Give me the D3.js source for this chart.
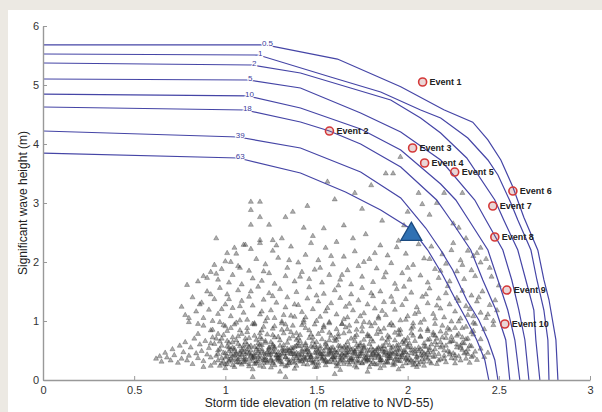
<!DOCTYPE html>
<html><head><meta charset="utf-8">
<script src="https://cdn.jsdelivr.net/npm/d3@7"></script>
<style>body{margin:0;background:#ece9e3}svg{display:block}</style>
</head><body>
<svg id="c" width="602" height="412"></svg>
<script>
// ---------- data ----------
const xTicks = [0, 0.5, 1, 1.5, 2, 2.5, 3];
const xTickLabels = ["0", "0.5", "1", "1.5", "2", "2.5", "3"];
const yTicks = [0, 1, 2, 3, 4, 5, 6];
const yTickLabels = ["0", "1", "2", "3", "4", "5", "6"];

const contourLabels = ["0.5", "1", "2", "5", "10", "18", "39", "63"];
const contour_0_5 = [[0,5.68],[1.22,5.68],[1.615,5.44],[1.962,4.97],[2.198,4.58],[2.357,4.37],[2.44,4.07],[2.511,3.73],[2.577,3.27],[2.637,2.76],[2.714,2.2],[2.747,1.7],[2.775,1.36],[2.813,0.68],[2.824,0]];
const contour_1 = [[0,5.525],[1.181,5.508],[1.577,5.136],[1.852,4.881],[2.071,4.576],[2.181,4.441],[2.33,4.102],[2.44,3.729],[2.495,3.475],[2.566,3.0],[2.604,2.712],[2.676,2.203],[2.709,1.695],[2.747,1.186],[2.769,0.678],[2.775,0]];
const contour_2 = [[0,5.373],[1.148,5.339],[1.412,5.203],[1.687,4.949],[1.907,4.746],[2.071,4.441],[2.181,4.186],[2.324,3.763],[2.478,3.051],[2.527,2.712],[2.604,2.203],[2.648,1.695],[2.692,1.186],[2.703,0.678],[2.725,0]];
const contour_5 = [[0,5.102],[1.126,5.085],[1.412,4.949],[1.742,4.525],[1.962,4.203],[2.181,3.729],[2.368,3.051],[2.429,2.712],[2.522,2.203],[2.571,1.695],[2.61,1.186],[2.643,0.678],[2.665,0]];
const contour_10 = [[0,4.847],[1.121,4.814],[1.412,4.61],[1.742,4.254],[1.962,3.898],[2.181,3.322],[2.264,3.051],[2.335,2.712],[2.44,2.203],[2.495,1.695],[2.549,1.186],[2.588,0.678],[2.615,0]];
const contour_18 = [[0,4.627],[1.11,4.576],[1.412,4.373],[1.571,4.22],[1.742,4.0],[1.962,3.61],[2.159,3.051],[2.236,2.712],[2.346,2.203],[2.412,1.695],[2.484,1.186],[2.538,0.678],[2.56,0]];
const contour_39 = [[0,4.22],[1.071,4.119],[1.412,3.932],[1.742,3.525],[1.962,3.085],[2.099,2.576],[2.181,2.203],[2.247,1.864],[2.324,1.356],[2.39,1.017],[2.44,0.678],[2.478,0.339],[2.495,0]];
const contour_63 = [[0,3.847],[1.071,3.763],[1.412,3.508],[1.659,3.186],[1.852,2.881],[2.027,2.542],[2.11,2.203],[2.192,1.78],[2.264,1.356],[2.324,1.017],[2.379,0.678],[2.423,0.339],[2.445,0]];

const eventNames = ["Event 1","Event 2","Event 3","Event 4","Event 5","Event 6","Event 7","Event 8","Event 9","Event 10"];
const eventX = [2.082, 1.571, 2.027, 2.093, 2.258, 2.577, 2.467, 2.478, 2.544, 2.533];
const eventY = [5.051, 4.22, 3.932, 3.678, 3.525, 3.203, 2.949, 2.424, 1.525, 0.949];

const designPoint = [2.02, 2.47];

// simulated storm events (x, y in hundredths of a metre), read off the cloud
const stormCloudHundredths = [
95,41,96,33,97,52,98,28,99,46,100,38,101,57,102,31,103,44,104,25,105,49,106,36,107,61,108,29,109,42,110,53,111,34,112,47,113,27,114,58,115,39,116,45,117,31,118,55,119,24,120,48,121,37,122,63,123,32,124,51,125,43,126,28,127,56,128,35,129,47,130,41,131,26,132,59,133,38,134,49,135,33,136,44,137,54,138,29,139,40,140,62,141,36,142,48,143,27,144,52,145,42,146,34,147,57,148,31,149,46,150,39,151,24,152,53,153,37,154,44,155,60,156,30,157,48,158,35,159,55,160,41,161,28,162,50,163,38,164,45,165,33,166,58,167,42,168,26,169,51,170,36,171,47,172,32,173,56,174,40,175,29,176,53,177,43,178,35,179,61,180,38,181,46,182,27,183,52,184,41,185,33,186,49,187,57,188,30,189,44,190,37,191,54,192,25,193,47,194,39,195,59,196,32,197,45,198,50,199,28,200,42,201,36,202,55,203,31,204,48,205,40,206,26,207,52,208,35,209,45,210,38,
96,44,98,37,100,26,102,55,104,40,106,30,108,48,110,35,112,60,114,43,116,27,118,39,120,52,122,34,124,46,126,57,128,41,130,31,132,49,134,25,136,54,138,43,140,33,142,58,144,37,146,47,148,28,150,51,152,40,154,32,156,56,158,45,160,34,162,26,164,53,166,39,168,47,170,30,172,59,174,44,176,36,178,50,180,27,182,42,184,55,186,33,188,46,190,40,192,29,194,51,196,38,198,61,200,34,202,45,204,27,206,49,208,41,210,56,
105,42,107,35,109,50,111,30,113,45,115,37,117,52,119,41,121,29,123,47,125,36,127,53,129,33,131,44,133,39,135,50,137,31,139,46,141,42,143,35,145,53,147,38,149,30,151,48,153,43,155,34,157,51,159,39,161,46,163,31,165,41,167,54,169,36,171,44,173,29,175,49,177,38,179,33,181,51,183,45,185,37,187,42,189,31,191,48,193,35,195,44,
97,24,99,31,101,27,103,36,105,22,107,30,109,26,111,38,113,23,115,32,117,28,119,35,121,22,123,29,125,33,127,25,129,37,131,30,133,23,135,28,137,36,139,24,141,31,143,39,145,26,147,33,149,22,151,29,153,35,155,25,157,31,159,38,161,23,163,34,165,27,167,30,169,37,171,24,173,33,175,28,177,36,179,22,181,30,183,26,185,34,187,24,189,29,191,37,193,27,195,32,197,23,199,35,201,29,203,25,205,33,207,30,209,24,211,36,213,28,
96,50,98,58,100,45,102,49,104,55,106,43,108,57,110,47,112,52,114,41,116,56,118,46,120,59,122,44,124,54,126,48,128,42,130,58,132,45,134,53,136,47,138,56,140,44,142,51,144,59,146,43,148,55,150,46,152,57,154,49,156,42,158,54,160,47,162,58,164,43,166,50,168,56,170,45,172,52,174,48,176,58,178,42,180,55,182,49,184,44,186,57,188,51,190,46,192,56,194,43,196,53,198,47,200,58,202,50,204,44,206,55,208,48,210,43,212,54,214,47,
101,40,103,52,104,33,106,46,108,38,110,58,111,44,113,35,114,50,116,41,118,32,119,60,121,45,122,38,124,55,126,31,127,47,129,42,130,36,132,53,134,45,135,29,137,49,139,37,140,57,142,43,144,34,145,50,147,41,149,59,150,35,152,46,154,38,155,54,157,44,159,30,160,50,162,42,164,36,165,56,167,47,169,33,170,52,172,40,174,58,175,45,177,31,179,49,180,42,182,37,184,53,185,29,187,47,189,40,190,59,192,45,194,34,195,51,197,42,199,37,200,55,
102,34,105,53,108,44,110,31,113,56,116,38,118,49,121,33,124,42,126,60,129,38,131,51,134,35,137,44,139,58,142,32,144,47,147,39,150,55,152,44,155,31,158,48,160,38,163,57,166,45,168,34,171,49,173,40,176,55,178,33,181,44,184,39,186,52,189,36,191,43,194,58,197,39,199,47,202,33,204,52,207,42,209,31,212,50,215,40,218,55,220,36,223,47,226,42,229,58,232,47,
92,62,95,70,97,65,99,76,102,63,104,72,106,67,109,78,111,64,113,71,116,75,118,62,120,69,123,77,125,64,127,72,130,67,132,79,134,63,137,74,139,68,141,76,144,62,146,71,148,65,151,78,153,69,155,63,158,75,160,66,162,73,165,79,167,64,169,70,172,76,174,62,176,68,179,74,181,65,183,78,186,70,188,63,190,72,193,67,195,76,197,64,200,71,202,79,204,66,207,73,209,62,212,69,215,75,218,64,221,71,224,66,227,75,230,63,233,70,236,77,
201,62,203,75,205,38,207,85,209,57,211,68,212,42,214,80,216,59,217,33,219,72,220,50,222,88,223,43,225,66,226,36,228,78,229,54,231,45,232,69,234,58,235,39,236,83,233,52,230,88,227,60,224,73,221,58,218,82,215,64,
96,78,100,91,104,64,108,84,111,70,115,95,119,79,122,66,126,87,129,73,133,94,136,81,140,71,143,97,147,77,150,64,154,92,157,80,161,68,164,95,168,82,171,66,175,90,178,74,182,96,185,81,189,68,192,92,196,78,199,66,
62,36,64,40,65,31,67,46,68,38,70,33,71,52,72,42,74,29,75,58,76,36,77,47,78,64,79,33,80,41,81,55,82,27,83,70,84,45,85,37,86,60,87,49,88,32,89,66,90,43,91,54,92,38,93,72,94,29,94,61,
211,47,212,31,213,60,214,39,215,52,216,27,217,44,218,35,219,58,220,41,221,30,222,49,223,64,224,37,225,45,226,28,227,55,228,40,229,33,230,51,231,62,232,36,233,44,234,29,235,57,236,41,237,48,238,34,240,53,242,39,244,46,
85,78,92,84,98,70,103,88,107,74,112,81,117,68,121,90,126,76,131,85,135,70,139,79,144,88,148,72,153,83,157,67,162,78,166,89,171,73,175,82,180,69,184,86,189,75,193,80,198,68,202,87,207,74,211,83,216,70,221,79,226,88,230,72,235,81,240,69,101,66,119,72,141,66,160,71,178,77,196,85,214,76,
88,92,93,85,97,98,101,83,105,94,108,101,112,88,116,96,120,84,123,105,127,91,131,99,134,86,138,107,142,93,146,84,150,100,154,89,157,96,161,86,165,103,168,92,172,85,176,98,180,91,184,107,187,87,191,96,195,84,199,102,203,90,207,97,211,86,215,104,219,92,223,85,228,99,232,90,237,95,242,86,247,100,236,108,
100,20,115,18,125,21,138,19,150,22,163,17,172,21,185,20,195,18,205,22,115,5,133,5,160,10,178,14,130,14,92,24,88,22,
76,124,78,110,80,98,82,140,84,116,85,95,87,131,88,105,90,150,91,119,93,100,94,137,96,112,97,156,99,93,100,128,101,145,103,108,104,122,106,97,107,152,109,134,110,114,112,102,113,141,115,126,116,94,118,158,119,111,121,136,122,99,124,147,125,118,127,105,128,131,130,154,131,96,133,123,134,140,136,109,137,92,139,149,140,127,142,115,143,101,145,138,146,157,148,120,149,94,151,133,152,107,154,146,155,116,157,98,158,130,160,152,161,111,163,139,164,95,166,124,167,106,169,145,170,118,172,99,173,135,175,156,176,113,178,128,179,97,181,142,182,121,184,104,185,150,187,132,188,110,190,93,191,141,193,119,194,154,196,101,197,127,199,137,200,108,202,148,203,96,205,123,206,115,208,141,209,102,211,130,212,155,214,112,215,95,217,138,218,121,220,106,221,147,223,128,224,99,226,116,227,139,229,104,230,151,232,125,233,110,235,143,236,97,238,133,240,114,241,150,243,105,245,127,247,93,249,118,
80,105,86,128,92,145,98,120,102,137,108,125,114,150,120,116,126,142,132,110,138,128,144,106,150,143,156,122,162,160,168,129,174,108,180,147,186,117,192,132,198,158,204,112,210,145,216,126,222,159,228,134,234,120,239,140,244,111,248,135,
79,161,85,167,88,176,90,173,92,183,94,195,96,170,98,188,100,201,102,165,104,178,106,214,107,193,109,162,111,229,113,185,115,172,117,205,119,237,120,168,122,196,124,181,126,219,127,163,129,207,131,240,133,176,134,190,136,226,138,167,140,199,142,183,144,212,146,171,148,244,149,187,151,203,153,165,155,224,157,178,159,196,161,234,163,170,165,209,167,186,169,162,171,218,173,193,175,175,177,247,179,205,181,166,183,189,185,228,187,174,189,211,191,198,193,163,195,236,197,181,199,214,201,170,203,195,205,242,207,177,209,206,211,165,213,226,215,188,217,173,219,213,221,197,223,167,225,232,227,184,229,203,231,171,233,219,235,186,237,176,240,199,238,215,
95,180,101,215,108,190,114,222,121,184,128,228,135,203,141,175,147,232,152,190,158,210,164,178,170,240,176,200,182,215,188,182,194,225,200,190,206,230,212,205,218,185,224,220,230,195,236,210,
114,302,119,302,114,288,119,276,114,263,124,263,133,276,137,285,95,240,105,224,110,229,119,232,126,237,103,200,156,336,171,317,175,290,188,350,192,350,196,378,206,317,220,317,230,317,186,270,165,262,145,295,154,257,198,262,212,280,225,265,208,298,143,258,160,306,180,330,216,300,200,285,
240,224,232,240,228,258,245,190,250,160,246,175,243,205
];

// ---------- drawing ----------
const W = 602, H = 412;
const svg = d3.select("#c");
svg.append("rect").attr("width", W).attr("height", H).attr("fill", "#ece9e3");
svg.append("rect").attr("x", 8).attr("y", 10).attr("width", W - 8).attr("height", H - 10).attr("fill", "#ffffff");

const x = d3.scaleLinear().domain([0, 3]).range([43, 590]);
const y = d3.scaleLinear().domain([0, 6]).range([380, 26]);
const FONT = "'Liberation Sans', Arial, sans-serif";

// scatter cloud
const cloud = d3.range(stormCloudHundredths.length / 2).map(i => [stormCloudHundredths[2*i] / 100, stormCloudHundredths[2*i+1] / 100]);
const smallTri = d3.symbol(d3.symbolTriangle).size(11);
svg.append("g").selectAll("path").data(cloud).join("path")
  .attr("d", smallTri)
  .attr("transform", d => `translate(${x(d[0])},${y(d[1])})`)
  .attr("fill", "#3a3a3a").attr("fill-opacity", 0.42)
  .attr("stroke", "#2a2a2a").attr("stroke-opacity", 0.5).attr("stroke-width", 0.6);

// contours
const contours = [contour_0_5, contour_1, contour_2, contour_5, contour_10, contour_18, contour_39, contour_63];
const line = d3.line().x(d => x(d[0])).y(d => y(d[1]));
const cg = svg.append("g");
cg.selectAll("path").data(contours).join("path")
  .attr("d", line).attr("fill", "none")
  .attr("stroke", "#4545a6").attr("stroke-width", 1.2);
cg.selectAll("text").data(contours).join("text")
  .attr("x", d => x(d[1][0]) + 2).attr("y", d => y(d[1][1]) + 1)
  .attr("text-anchor", "middle")
  .attr("font-family", FONT).attr("font-size", 8)
  .attr("fill", "#3c3c9c")
  .attr("stroke", "#fff").attr("stroke-width", 2).attr("paint-order", "stroke")
  .text((d, i) => contourLabels[i]);

// axes
const xAxis = d3.axisBottom(x).tickValues(xTicks).tickFormat((d, i) => xTickLabels[i]).tickSizeInner(-4).tickSizeOuter(0).tickPadding(6);
const yAxis = d3.axisLeft(y).tickValues(yTicks).tickFormat((d, i) => yTickLabels[i]).tickSizeInner(-4).tickSizeOuter(0).tickPadding(4);
const gx = svg.append("g").attr("transform", `translate(0,${y(0)})`).call(xAxis);
const gy = svg.append("g").attr("transform", `translate(${x(0)},0)`).call(yAxis);
[gx, gy].forEach(g => {
  g.select(".domain").attr("stroke", "#999").attr("stroke-width", 1.4);
  g.selectAll(".tick line").attr("stroke", "#999");
  g.selectAll("text").attr("font-family", FONT).attr("font-size", 11).attr("fill", "#333");
});

// events
const eg = svg.append("g");
eventNames.forEach((name, i) => {
  eg.append("circle").attr("cx", x(eventX[i])).attr("cy", y(eventY[i])).attr("r", 4)
    .attr("fill", "rgba(170,90,90,0.25)").attr("stroke", "#d43838").attr("stroke-width", 1.6);
  eg.append("text").attr("x", x(eventX[i]) + 7).attr("y", y(eventY[i])).attr("dy", "0.35em")
    .attr("font-family", FONT).attr("font-size", 9).attr("font-weight", "bold").attr("fill", "#222")
    .text(name);
});

// design point (large triangle)
svg.append("path").attr("d", d3.symbol(d3.symbolTriangle).size(190))
  .attr("transform", `translate(${x(designPoint[0])},${y(designPoint[1])})`)
  .attr("fill", "#3071b3").attr("stroke", "#1b4a7f").attr("stroke-width", 1.3);

// axis titles
svg.append("text").attr("x", 319).attr("y", 407).attr("text-anchor", "middle")
  .attr("font-family", FONT).attr("font-size", 12).attr("fill", "#222")
  .text("Storm tide elevation (m relative to NVD-55)");
svg.append("text").attr("transform", "translate(27,203) rotate(-90)").attr("text-anchor", "middle")
  .attr("font-family", FONT).attr("font-size", 12).attr("fill", "#222")
  .text("Significant wave height (m)");
</script>
</body></html>
